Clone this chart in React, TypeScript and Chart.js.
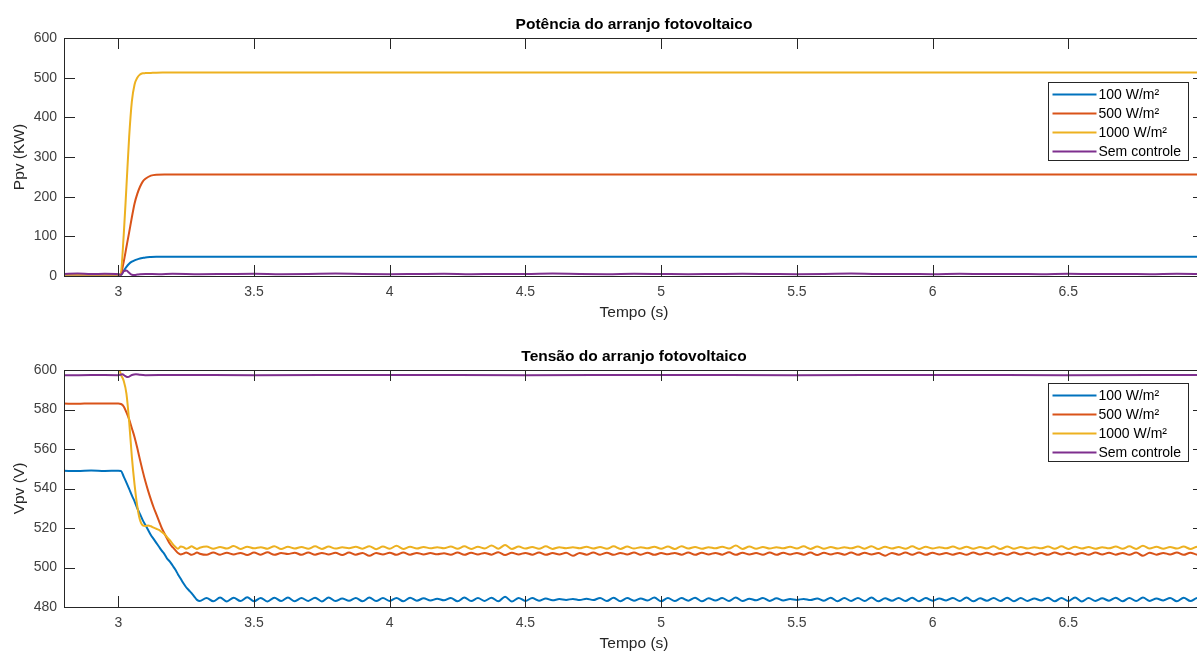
import React, { useEffect, useRef } from "react";
import { Chart, registerables } from "chart.js";

Chart.register(...registerables);

// ---------- labels / styles ----------
const SERIES_LABELS = ["100 W/m²", "500 W/m²", "1000 W/m²", "Sem controle"];
const SERIES_COLORS = ["#0072BD", "#D95319", "#EDB120", "#7E2F8E"];
const X_TICKS = [3, 3.5, 4, 4.5, 5, 5.5, 6, 6.5];
const P_TICKS = [0, 100, 200, 300, 400, 500, 600];
const V_TICKS = [480, 500, 520, 540, 560, 580, 600];

// ---------- power (top) ----------
const tPow = [2.8, 2.9, 3.0, 3.008, 3.02, 3.03, 3.04, 3.05, 3.06, 3.07, 3.08, 3.09, 3.1, 3.12, 3.14, 3.17, 3.2, 3.25, 3.3, 7.0];
const p100 = [4, 4, 4, 2, 13, 23, 31, 36, 39.5, 42, 44, 45.5, 46.8, 47.8, 48.3, 48.6, 48.7, 48.7, 48.7, 48.7];
const p500 = [4, 4, 4, 2, 36, 73, 110, 148, 183, 207, 225, 238, 245, 253, 255.5, 256, 256, 256, 256, 256];
const p1000 = [4, 4, 4, 3, 103, 225, 350, 440, 483, 500, 508, 511, 511.5, 512, 512.5, 512.8, 513, 513, 513, 513];

const tPowSem = [
  2.8, 2.85, 2.9, 2.95, 3.0, 3.01, 3.02, 3.03, 3.04, 3.05, 3.06, 3.07, 3.08, 3.1, 3.15, 3.2, 3.3,
  3.4, 3.5, 3.6, 3.7, 3.8, 3.9, 4.0, 4.1, 4.2, 4.3, 4.4, 4.5, 4.6, 4.7, 4.8, 4.9, 5.0, 5.1, 5.2, 5.3,
  5.4, 5.5, 5.6, 5.7, 5.8, 5.9, 6.0, 6.1, 6.2, 6.3, 6.4, 6.5, 6.6, 6.7, 6.8, 6.9, 7.0,
];
const pSem = [
  5, 6, 5, 5.5, 4.5, 3, 12, 14, 8, 3, 2.5, 3.5, 4.5, 5, 4.5, 5.5, 4.5,
  5, 5.5, 4.5, 5, 6, 5, 4.5, 5, 5.5, 4.5,
  5, 5, 6, 5, 4.5, 5.5, 5, 4.5, 5, 5.5,
  5, 4.5, 5, 6, 5, 5, 4.5, 5.5, 5, 5,
  4.5, 5.5, 5, 5, 4.5, 5.5, 5,
];

// ---------- voltage (bottom) ----------
const tV = [
  2.8, 2.85, 2.9, 2.95, 3.0, 3.01,
  3.02, 3.03, 3.04, 3.05, 3.06, 3.07, 3.08, 3.09, 3.1, 3.11, 3.12, 3.13, 3.14, 3.15,
  3.16, 3.17, 3.18, 3.19, 3.2, 3.21, 3.22, 3.23, 3.24, 3.25, 3.26, 3.27, 3.28, 3.29, 3.3,
  3.325, 3.35, 3.375, 3.4,
  3.425, 3.45, 3.475, 3.5,
  3.525, 3.55, 3.575, 3.6,
  3.625, 3.65, 3.675, 3.7,
  3.725, 3.75, 3.775, 3.8,
  3.825, 3.85, 3.875, 3.9,
  3.925, 3.95, 3.975, 4.0,
  4.025, 4.05, 4.075, 4.1,
  4.125, 4.15, 4.175, 4.2,
  4.225, 4.25, 4.275, 4.3,
  4.325, 4.35, 4.375, 4.4,
  4.425, 4.45, 4.475, 4.5,
  4.525, 4.55, 4.575, 4.6,
  4.625, 4.65, 4.675, 4.7,
  4.725, 4.75, 4.775, 4.8,
  4.825, 4.85, 4.875, 4.9,
  4.925, 4.95, 4.975, 5.0,
  5.025, 5.05, 5.075, 5.1,
  5.125, 5.15, 5.175, 5.2,
  5.225, 5.25, 5.275, 5.3,
  5.325, 5.35, 5.375, 5.4,
  5.425, 5.45, 5.475, 5.5,
  5.525, 5.55, 5.575, 5.6,
  5.625, 5.65, 5.675, 5.7,
  5.725, 5.75, 5.775, 5.8,
  5.825, 5.85, 5.875, 5.9,
  5.925, 5.95, 5.975, 6.0,
  6.025, 6.05, 6.075, 6.1,
  6.125, 6.15, 6.175, 6.2,
  6.225, 6.25, 6.275, 6.3,
  6.325, 6.35, 6.375, 6.4,
  6.425, 6.45, 6.475, 6.5,
  6.525, 6.55, 6.575, 6.6,
  6.625, 6.65, 6.675, 6.7,
  6.725, 6.75, 6.775, 6.8,
  6.825, 6.85, 6.875, 6.9,
  6.925, 6.95, 6.975, 7.0,
];

const v100 = [
  549.0, 548.8, 549.1, 548.9, 549.0, 548.9,
  546.0, 543.0, 539.8, 536.5, 533.5, 530.0, 527.0, 524.0, 521.5, 519.0, 516.5, 514.5, 512.5, 510.5,
  508.5, 506.8, 504.5, 503.0, 501.0, 499.0, 496.5, 494.3, 492.0, 490.0, 488.5, 487.0, 485.3, 483.6, 483.0,
  484.6, 482.9, 484.8, 482.8,
  484.7, 483.0, 484.9, 482.9,
  484.6, 482.8, 484.7, 483.0,
  484.8, 482.9, 484.5, 483.1,
  484.7, 482.8, 484.8, 483.0,
  484.3, 483.2, 484.6, 482.9,
  484.8, 483.0, 484.5, 483.1,
  484.6, 482.9, 484.7, 483.2,
  484.4, 483.3, 484.2, 483.4,
  484.6, 482.9, 484.8, 483.0,
  484.5, 483.1, 484.7, 482.9,
  485.2, 482.8, 484.6, 483.1,
  484.5, 483.2, 484.3, 483.4,
  484.0, 483.6, 484.1, 483.5,
  484.2, 483.5, 484.6, 483.0,
  484.7, 482.9, 484.5, 483.2,
  484.3, 483.3, 484.8, 482.9,
  484.6, 483.0, 484.5, 483.2,
  484.7, 482.9, 484.4, 483.3,
  484.5, 483.1, 484.8, 483.0,
  484.2, 483.4, 484.6, 483.1,
  484.4, 483.3, 484.0, 483.6,
  484.1, 483.5, 484.3, 483.2,
  484.7, 482.9, 484.5, 483.1,
  484.6, 483.0, 484.8, 482.9,
  484.4, 483.2, 484.6, 483.0,
  484.7, 482.9, 484.5, 483.2,
  484.3, 483.3, 484.6, 483.0,
  484.8, 482.9, 484.4, 483.2,
  484.6, 483.0, 484.7, 482.9,
  484.5, 483.1, 484.3, 483.3,
  484.7, 482.9, 484.6, 483.0,
  484.8, 482.8, 484.5, 483.1,
  484.4, 483.2, 484.7, 482.9,
  484.6, 483.0, 484.8, 483.1,
  484.3, 483.3, 484.6, 482.9,
  484.7, 483.0, 484.5, 483.2,
];

const v500 = [
  583.0, 582.9, 583.1, 583.0, 583.0, 582.8,
  581.5, 578.5, 575.0, 570.5, 566.0, 560.5, 554.5, 548.8, 543.5, 538.8, 534.5, 530.5, 527.0, 523.5,
  520.0, 517.2, 514.5, 512.0, 510.3, 508.8, 507.3, 506.6, 507.0, 507.6, 507.0, 506.4, 506.9, 507.6, 507.0,
  506.4, 507.6, 506.5, 507.5,
  506.6, 507.4, 506.3, 507.6,
  506.5, 507.7, 506.4, 507.3,
  506.8, 507.5, 506.4, 507.6,
  506.5, 507.4, 506.6, 507.5,
  506.3, 507.6, 506.5, 507.4,
  505.9, 507.3, 506.6, 507.5,
  506.4, 507.6, 506.5, 507.4,
  506.6, 507.3, 506.7, 507.2,
  506.5, 507.6, 506.4, 507.5,
  506.6, 507.4, 506.5, 507.7,
  506.3, 507.5, 506.6, 507.4,
  506.5, 507.6, 506.4, 507.3,
  506.6, 507.5, 505.9, 507.4,
  506.5, 507.6, 506.5, 507.5,
  506.4, 507.4, 506.6, 507.6,
  506.5, 507.5, 506.4, 507.3,
  506.7, 507.4, 506.5, 507.6,
  506.4, 507.5, 506.6, 507.4,
  506.5, 507.7, 506.4, 507.5,
  506.6, 507.3, 506.5, 507.6,
  506.4, 507.5, 506.6, 507.4,
  506.5, 507.6, 506.3, 507.5,
  506.6, 507.4, 506.5, 507.6,
  506.4, 507.5, 506.6, 507.3,
  506.0, 507.4, 506.5, 507.6,
  506.5, 507.6, 506.4, 507.5,
  506.6, 507.3, 506.5, 507.4,
  506.4, 507.6, 506.6, 507.5,
  506.5, 507.4, 506.4, 507.6,
  506.6, 507.5, 506.5, 507.3,
  506.4, 507.6, 506.6, 507.5,
  506.5, 507.4, 506.4, 507.6,
  506.6, 507.5, 506.5, 507.4,
  506.4, 507.6, 505.9, 507.5,
  506.5, 507.4, 506.6, 507.6,
  506.4, 507.5, 506.5, 507.4,
];

const v1000 = [
  603.0, 603.0, 603.0, 603.0, 602.0, 597.5,
  594.5, 588.0, 574.0, 556.0, 542.0, 531.0, 524.0, 521.3, 521.0, 521.3, 520.9, 520.2, 519.6, 519.0,
  518.0, 517.0, 515.3, 513.8, 512.0, 510.5, 509.5, 510.6, 510.3, 509.5, 510.0, 510.7, 510.0, 509.4, 510.0,
  510.6, 509.5, 510.4, 509.6,
  510.9, 509.4, 510.5, 509.7,
  510.3, 509.5, 510.8, 509.4,
  510.5, 509.6, 510.4, 509.5,
  510.7, 509.4, 510.6, 509.6,
  510.2, 509.8, 510.5, 509.5,
  510.8, 509.3, 510.6, 509.5,
  511.0, 509.4, 510.5, 509.6,
  510.4, 509.7, 510.3, 509.8,
  510.6, 509.5, 510.7, 509.4,
  510.5, 509.6, 511.2, 509.5,
  511.4, 509.4, 510.6, 509.6,
  510.4, 509.5, 510.7, 509.4,
  510.3, 509.8, 510.2, 509.7,
  510.5, 509.6, 510.4, 509.5,
  510.7, 509.4, 510.6, 509.6,
  510.3, 509.7, 510.5, 509.5,
  510.6, 509.4, 510.8, 509.6,
  510.4, 509.5, 510.3, 509.7,
  510.5, 509.6, 511.1, 509.4,
  510.6, 509.5, 510.4, 509.6,
  510.3, 509.7, 510.5, 509.6,
  510.7, 509.4, 510.6, 509.5,
  510.4, 509.6, 510.3, 509.7,
  510.6, 509.5, 510.8, 509.4,
  510.5, 509.6, 510.4, 509.5,
  510.7, 509.4, 510.5, 509.6,
  510.3, 509.7, 510.6, 509.5,
  510.5, 509.5, 510.4, 509.6,
  510.8, 509.4, 510.6, 509.5,
  510.4, 509.6, 510.3, 509.7,
  510.6, 509.5, 510.7, 509.4,
  510.5, 509.6, 510.4, 509.5,
  510.3, 509.7, 510.6, 509.5,
  510.7, 509.4, 511.0, 509.6,
  510.5, 509.5, 510.4, 509.6,
  510.6, 509.4, 510.5, 509.6,
];

const tVSem = [2.8, 2.9, 3.0, 3.015, 3.025, 3.035, 3.05, 3.065, 3.08, 3.1, 3.2, 3.5, 4.0, 4.5, 5.0, 5.5, 6.0, 6.5, 7.0];
const vSem = [597.3, 597.5, 597.4, 597.8, 597.0, 596.4, 597.5, 597.9, 597.6, 597.4, 597.5, 597.4, 597.5, 597.4, 597.5, 597.4, 597.5, 597.4, 597.5];

// ---------- rendering helpers ----------
const FONT = '"Liberation Sans", Arial, Helvetica, sans-serif';
const AXIS_COLOR = "#262626";

const zip = (t: number[], v: number[]) => t.map((x, i) => ({ x, y: v[i] }));

const matlabPlugin = {
  id: "matlab",
  afterDatasetsDraw(chart: any, _args: any, opts: any) {
    const { ctx, chartArea: a, scales } = chart;
    const xs = scales.x;
    const ys = scales.y;
    ctx.save();
    ctx.strokeStyle = AXIS_COLOR;
    ctx.lineWidth = 1;
    ctx.strokeRect(Math.round(a.left) + 0.5, Math.round(a.top) + 0.5, Math.round(a.right - a.left), Math.round(a.bottom - a.top));
    const tl = 11;
    ctx.beginPath();
    for (const v of X_TICKS) {
      const px = Math.round(xs.getPixelForValue(v)) + 0.5;
      ctx.moveTo(px, a.bottom);
      ctx.lineTo(px, a.bottom - tl);
      ctx.moveTo(px, a.top);
      ctx.lineTo(px, a.top + tl);
    }
    for (const v of opts.yTicks) {
      const py = Math.round(ys.getPixelForValue(v)) + 0.5;
      ctx.moveTo(a.left, py);
      ctx.lineTo(a.left + tl, py);
      ctx.moveTo(a.right, py);
      ctx.lineTo(a.right - tl, py);
    }
    ctx.stroke();
    ctx.restore();
  },
  afterDraw(chart: any, _args: any, opts: any) {
    const { ctx, chartArea: a } = chart;
    const cx = (a.left + a.right) / 2;
    ctx.save();
    ctx.fillStyle = "#000";
    ctx.font = `bold 15.5px ${FONT}`;
    ctx.textAlign = "center";
    ctx.textBaseline = "alphabetic";
    ctx.fillText(opts.title, cx, a.top - 9);
    ctx.fillStyle = AXIS_COLOR;
    ctx.font = `15.5px ${FONT}`;
    ctx.textBaseline = "middle";
    ctx.fillText(opts.xLabel, cx, a.bottom + 37);
    ctx.save();
    ctx.translate(20, (a.top + a.bottom) / 2);
    ctx.rotate(-Math.PI / 2);
    ctx.fillText(opts.yLabel, 0, 0);
    ctx.restore();
    const bw = 140;
    const bh = 78;
    const bx = Math.round(a.right - 16 - bw) + 0.5;
    const by = Math.round(a.top + opts.legendTop) + 0.5;
    ctx.fillStyle = "#fff";
    ctx.fillRect(bx, by, bw, bh);
    ctx.strokeStyle = AXIS_COLOR;
    ctx.lineWidth = 1;
    ctx.strokeRect(bx, by, bw, bh);
    ctx.font = `14px ${FONT}`;
    ctx.textAlign = "left";
    ctx.textBaseline = "middle";
    chart.data.datasets.forEach((ds: any, i: number) => {
      const ry = by + 12 + i * 19;
      ctx.strokeStyle = ds.borderColor;
      ctx.lineWidth = 2;
      ctx.beginPath();
      ctx.moveTo(bx + 4, ry);
      ctx.lineTo(bx + 48, ry);
      ctx.stroke();
      ctx.fillStyle = "#000";
      ctx.fillText(ds.label, bx + 50, ry + 0.5);
    });
    ctx.restore();
  },
};

function makeConfig(opts: {
  datasets: any[];
  yMin: number;
  yMax: number;
  yTicks: number[];
  padTop: number;
  xAxisH: number;
  title: string;
  yLabel: string;
  legendTop: number;
}) {
  return {
    type: "line",
    data: { datasets: opts.datasets },
    options: {
      animation: false,
      responsive: false,
      devicePixelRatio: 1,
      events: [],
      layout: { padding: { top: opts.padTop, right: 6, left: 0, bottom: 0 } },
      elements: {
        point: { radius: 0 },
        line: { borderWidth: 2, cubicInterpolationMode: "monotone" },
      },
      plugins: {
        legend: { display: false },
        tooltip: { enabled: false },
        title: { display: false },
        matlab: {
          title: opts.title,
          xLabel: "Tempo (s)",
          yLabel: opts.yLabel,
          yTicks: opts.yTicks,
          legendTop: opts.legendTop,
        },
      },
      scales: {
        x: {
          type: "linear",
          min: 2.8,
          max: 7.0,
          grid: { display: false, drawTicks: false, tickLength: 0 },
          border: { display: false },
          afterBuildTicks: (s: any) => {
            s.ticks = X_TICKS.map((v) => ({ value: v }));
          },
          afterFit: (s: any) => {
            s.height = opts.xAxisH;
          },
          ticks: {
            autoSkip: false,
            maxRotation: 0,
            padding: 8,
            color: "#404040",
            font: { family: FONT, size: 14 },
            callback: (v: any) => String(v),
          },
        },
        y: {
          type: "linear",
          min: opts.yMin,
          max: opts.yMax,
          grid: { display: false, drawTicks: false, tickLength: 0 },
          border: { display: false },
          afterBuildTicks: (s: any) => {
            s.ticks = opts.yTicks.map((v) => ({ value: v }));
          },
          afterFit: (s: any) => {
            s.width = 64;
          },
          ticks: {
            autoSkip: false,
            padding: 7,
            color: "#404040",
            font: { family: FONT, size: 14 },
            callback: (v: any) => String(v),
          },
        },
      },
    },
    plugins: [matlabPlugin],
  } as any;
}

function ds(label: number, data: { x: number; y: number }[]) {
  return {
    label: SERIES_LABELS[label],
    data,
    borderColor: SERIES_COLORS[label],
    backgroundColor: SERIES_COLORS[label],
    borderWidth: 2,
    pointRadius: 0,
    fill: false,
    clip: 0,
    order: 4 - label,
  };
}

export default function App() {
  const topRef = useRef<HTMLCanvasElement | null>(null);
  const botRef = useRef<HTMLCanvasElement | null>(null);

  useEffect(() => {
    if (!topRef.current || !botRef.current) return;
    const top = new Chart(
      topRef.current,
      makeConfig({
        datasets: [
          ds(0, zip(tPow, p100)),
          ds(1, zip(tPow, p500)),
          ds(2, zip(tPow, p1000)),
          ds(3, zip(tPowSem, pSem)),
        ],
        yMin: 0,
        yMax: 600,
        yTicks: P_TICKS,
        padTop: 38,
        xAxisH: 51,
        title: "Potência do arranjo fotovoltaico",
        yLabel: "Ppv (KW)",
        legendTop: 44,
      })
    );
    const bot = new Chart(
      botRef.current,
      makeConfig({
        datasets: [
          ds(0, zip(tV, v100)),
          ds(1, zip(tV, v500)),
          ds(2, zip(tV, v1000)),
          ds(3, zip(tVSem, vSem)),
        ],
        yMin: 480,
        yMax: 600,
        yTicks: V_TICKS,
        padTop: 43,
        xAxisH: 46,
        title: "Tensão do arranjo fotovoltaico",
        yLabel: "Vpv (V)",
        legendTop: 13,
      })
    );
    return () => {
      top.destroy();
      bot.destroy();
    };
  }, []);

  return (
    <div
      style={{
        position: "fixed",
        left: 0,
        top: 0,
        width: 1210,
        height: 653,
        background: "#fff",
        overflow: "hidden",
      }}
    >
      <canvas ref={topRef} width={1210} height={327} style={{ display: "block", width: 1210, height: 327 }} />
      <canvas ref={botRef} width={1210} height={326} style={{ display: "block", width: 1210, height: 326 }} />
    </div>
  );
}
